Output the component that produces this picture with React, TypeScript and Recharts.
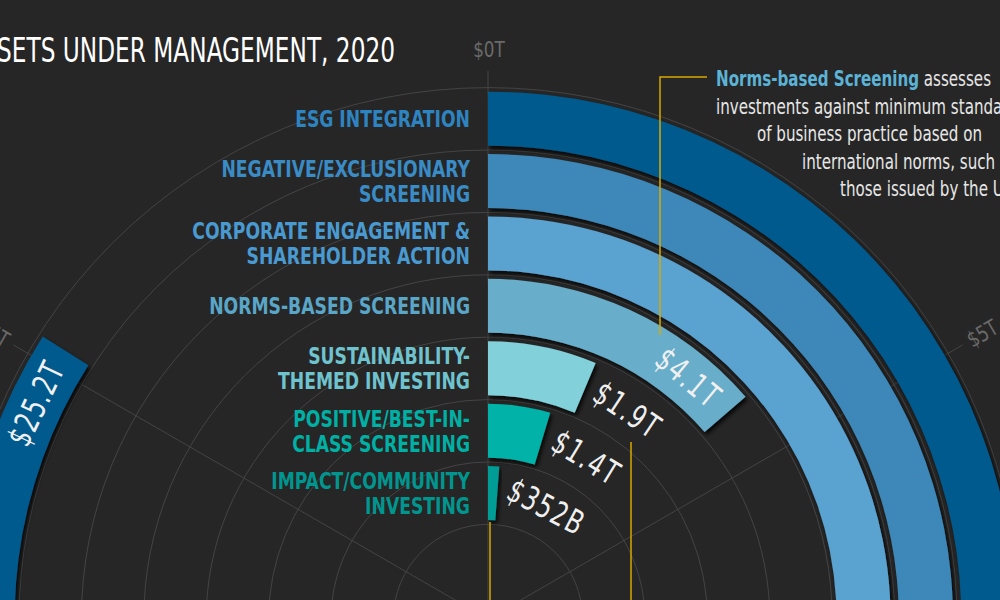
import React from 'react';
import {
  RadialBarChart,
  RadialBar,
  PolarAngleAxis,
  PolarRadiusAxis,
  PolarGrid,
  Cell,
  LabelList,
  Sector,
} from 'recharts';

// ---------- data ----------
const CATEGORIES = [
  'ESG Integration',
  'Negative/Exclusionary Screening',
  'Corporate Engagement & Shareholder Action',
  'Norms-based Screening',
  'Sustainability-themed Investing',
  'Positive/Best-in-class Screening',
  'Impact/Community Investing',
];
const CATEGORY_LINES = [
  ['ESG INTEGRATION'],
  ['NEGATIVE/EXCLUSIONARY', 'SCREENING'],
  ['CORPORATE ENGAGEMENT &', 'SHAREHOLDER ACTION'],
  ['NORMS-BASED SCREENING'],
  ['SUSTAINABILITY-', 'THEMED INVESTING'],
  ['POSITIVE/BEST-IN-', 'CLASS SCREENING'],
  ['IMPACT/COMMUNITY', 'INVESTING'],
];
// assets under management, trillions USD
const AUM_TRILLIONS = [25.2, 15.0, 10.5, 4.1, 1.9, 1.4, 0.352];
const AXIS_TICKS = [0, 5, 10, 15, 20, 25];
const AXIS_MAX = 30;

const TITLE = 'SETS UNDER MANAGEMENT, 2020';
const NOTE_HEAD = 'Norms-based Screening';
const NOTE_LINES = [
  ' assesses',
  'investments against minimum standards',
  'of business practice based on',
  'international norms, such as',
  'those issued by the UN.',
];

// ---------- styles ----------
const BG = '#262626';
const BAR_COLORS = ['#005a8d', '#3d88b9', '#5aa2d0', '#67adc9', '#82d0d9', '#00b2a8', '#009c96'];
const LABEL_COLORS = ['#2d84c0', '#3a8cc6', '#4a9ad2', '#5aa6c8', '#6fc3cf', '#00b0a5', '#00968f'];
const GOLD = '#d9a900';
const GRID = '#444444';
const AXIS_TEXT = '#6a6a6a';
const FONT = "'DejaVu Sans Condensed', 'DejaVu Sans', Roboto, sans-serif";

const W = 1000;
const H = 600;
const CX = 488;
const CY = 619;
const INNER_R = 94.6;
const OUTER_R = 531.4;
const GRID_OUTER = 548;
const TICK_LABEL_R = 555;
const TOP_LABEL_R = 570;
const RAD = Math.PI / 180;

const VALUE_FONT_SIZE = 33;
const VALUE_SCALE_X = 0.78;
const VALUE_SPACING = 2;

const data = CATEGORIES.map((name, i) => ({ name, value: AUM_TRILLIONS[i] }));
const GRID_ANGLES = AXIS_TICKS.map((v) => 90 - (v / AXIS_MAX) * 360);
const GRID_RADII = Array.from({ length: CATEGORIES.length + 1 }, (_, i) => INNER_R + (i * (OUTER_R - INNER_R)) / CATEGORIES.length);

const fmtValue = (v: number) => (v >= 1 ? `$${v.toFixed(1)}T` : `$${Math.round(v * 1000)}B`);
const fmtTick = (v: number) => `$${v}T`;

// rough rendered width of a value label, used to centre it on the arc
const approxWidth = (s: string) =>
  s.split('').reduce((w, ch) => w + (ch === '.' ? 0.32 : 0.58) * VALUE_FONT_SIZE + VALUE_SPACING, 0) * VALUE_SCALE_X;

const BarShape = (p: any) => (
  <g filter="url(#barShadow)">
    <Sector {...p} />
  </g>
);

const ValueLabel = (props: any) => {
  const { viewBox, value } = props;
  if (!viewBox) return null;
  const { cx, cy, innerRadius, outerRadius, endAngle } = viewBox;
  const r = (innerRadius + outerRadius) / 2;
  const v = Number(value);
  const text = fmtValue(v);
  const inside = v >= 3;
  const gap = inside ? 14 : 10;
  const half = approxWidth(text) / 2;
  const dAng = (((gap + half) / r) * 180) / Math.PI;
  const a = inside ? endAngle + dAng : endAngle - dAng;
  const x = cx + r * Math.cos(a * RAD);
  const y = cy - r * Math.sin(a * RAD);
  const rot = 90 - a;
  return (
    <g transform={`translate(${x} ${y}) rotate(${rot}) scale(${VALUE_SCALE_X} 1)`}>
      <text
        x={0}
        y={0}
        textAnchor="middle"
        dominantBaseline="central"
        fill="#f0f0f0"
        fontFamily={FONT}
        fontSize={VALUE_FONT_SIZE}
        letterSpacing={VALUE_SPACING}
      >
        {text}
      </text>
    </g>
  );
};

const CategoryLabel = (props: any) => {
  const { viewBox, index } = props;
  if (!viewBox) return null;
  const { cx, cy, innerRadius, outerRadius, startAngle } = viewBox;
  const r = (innerRadius + outerRadius) / 2;
  const x = cx + r * Math.cos(startAngle * RAD) - 18;
  const y = cy - r * Math.sin(startAngle * RAD);
  const lines = CATEGORY_LINES[index] || [];
  const lh = 25;
  return (
    <g transform={`translate(${x} ${y}) scale(0.85 1)`}>
      <text textAnchor="end" fill={LABEL_COLORS[index]} fontFamily={FONT} fontWeight="bold" fontSize={22.5}>
        {lines.map((l, i) => (
          <tspan key={i} x={0} y={(i - (lines.length - 1) / 2) * lh + 8.5}>
            {l}
          </tspan>
        ))}
      </text>
    </g>
  );
};

const AngleTick = (props: any) => {
  const { payload } = props;
  if (!payload) return null;
  const a = payload.coordinate;
  if (payload.value === 0) {
    return (
      <g transform={`translate(${CX + 1} ${CY - TOP_LABEL_R}) scale(0.85 1)`}>
        <text x={0} y={0} textAnchor="middle" dominantBaseline="central" fill={AXIS_TEXT} fontFamily={FONT} fontSize={22}>
          {fmtTick(payload.value)}
        </text>
      </g>
    );
  }
  const x = CX + TICK_LABEL_R * Math.cos(a * RAD);
  const y = CY - TICK_LABEL_R * Math.sin(a * RAD);
  let rot = -a;
  while (rot > 180) rot -= 360;
  while (rot <= -180) rot += 360;
  let anchor: 'start' | 'end' = 'start';
  if (Math.abs(rot) > 90) {
    rot += rot > 0 ? -180 : 180;
    anchor = 'end';
  }
  return (
    <g transform={`translate(${x} ${y}) rotate(${rot}) scale(0.85 1)`}>
      <text x={0} y={0} textAnchor={anchor} dominantBaseline="central" fill={AXIS_TEXT} fontFamily={FONT} fontSize={22}>
        {fmtTick(payload.value)}
      </text>
    </g>
  );
};

const layer: React.CSSProperties = { position: 'absolute', left: 0, top: 0 };
const margin = { top: 0, right: 0, bottom: 0, left: 0 };

const NOTE_X = [716, 716, 757, 802, 840];
const NOTE_Y = [86, 114, 141, 169, 196];

export default function App() {
  return (
    <div style={{ position: 'absolute', left: 0, top: 0, width: W, height: H, background: BG, overflow: 'hidden', fontFamily: FONT }}>
      <svg width={0} height={0} style={{ position: 'absolute' }}>
        <defs>
          <filter id="barShadow" x="-20%" y="-20%" width="140%" height="140%">
            <feDropShadow dx={2} dy={3} stdDeviation={2} floodColor="#000000" floodOpacity={0.85} />
          </filter>
        </defs>
      </svg>

      {/* grid layer */}
      <div style={layer}>
        <RadialBarChart
          width={W}
          height={H}
          cx={CX}
          cy={CY}
          innerRadius={0}
          outerRadius={GRID_OUTER}
          startAngle={90}
          endAngle={-270}
          data={data}
          margin={margin}
        >
          <PolarGrid gridType="circle" polarAngles={GRID_ANGLES} polarRadius={GRID_RADII} stroke={GRID} strokeWidth={1} />
        </RadialBarChart>
      </div>

      {/* bars layer */}
      <div style={layer}>
        <RadialBarChart
          width={W}
          height={H}
          cx={CX}
          cy={CY}
          innerRadius={INNER_R}
          outerRadius={OUTER_R}
          startAngle={90}
          endAngle={-270}
          data={data}
          margin={margin}
          barCategoryGap="7%"
        >
          <PolarAngleAxis type="number" domain={[0, AXIS_MAX]} ticks={AXIS_TICKS} tick={AngleTick} axisLine={false} tickLine={false} />
          <PolarRadiusAxis type="category" dataKey="name" reversed tick={false} axisLine={false} />
          <RadialBar dataKey="value" isAnimationActive={false} shape={BarShape}>
            {data.map((d, i) => (
              <Cell key={d.name} fill={BAR_COLORS[i]} />
            ))}
            <LabelList dataKey="value" content={ValueLabel} />
            <LabelList dataKey="name" content={CategoryLabel} />
          </RadialBar>
        </RadialBarChart>
      </div>

      {/* title / annotations */}
      <svg width={W} height={H} style={{ ...layer, pointerEvents: 'none' }}>
        <text x={-3} y={62} fill="#ffffff" fontFamily={FONT} fontSize={34} textLength={398} lengthAdjust="spacingAndGlyphs">
          {TITLE}
        </text>
        <polyline points="707,77 660,77 660,335" fill="none" stroke={GOLD} strokeWidth={1.5} />
        <line x1={490} y1={522} x2={490} y2={600} stroke={GOLD} strokeWidth={1.5} />
        <line x1={631} y1={442} x2={631} y2={600} stroke={GOLD} strokeWidth={1.5} />
        {NOTE_LINES.map((line, i) => (
          <g key={i} transform={`translate(${NOTE_X[i]} ${NOTE_Y[i]}) scale(0.8 1)`}>
            <text x={0} y={0} fontFamily={FONT} fontSize={21} fill="#e6e6e6">
              {i === 0 && (
                <tspan fill="#5cb3d6" fontWeight="bold">
                  {NOTE_HEAD}
                </tspan>
              )}
              <tspan>{line}</tspan>
            </text>
          </g>
        ))}
      </svg>
    </div>
  );
}
